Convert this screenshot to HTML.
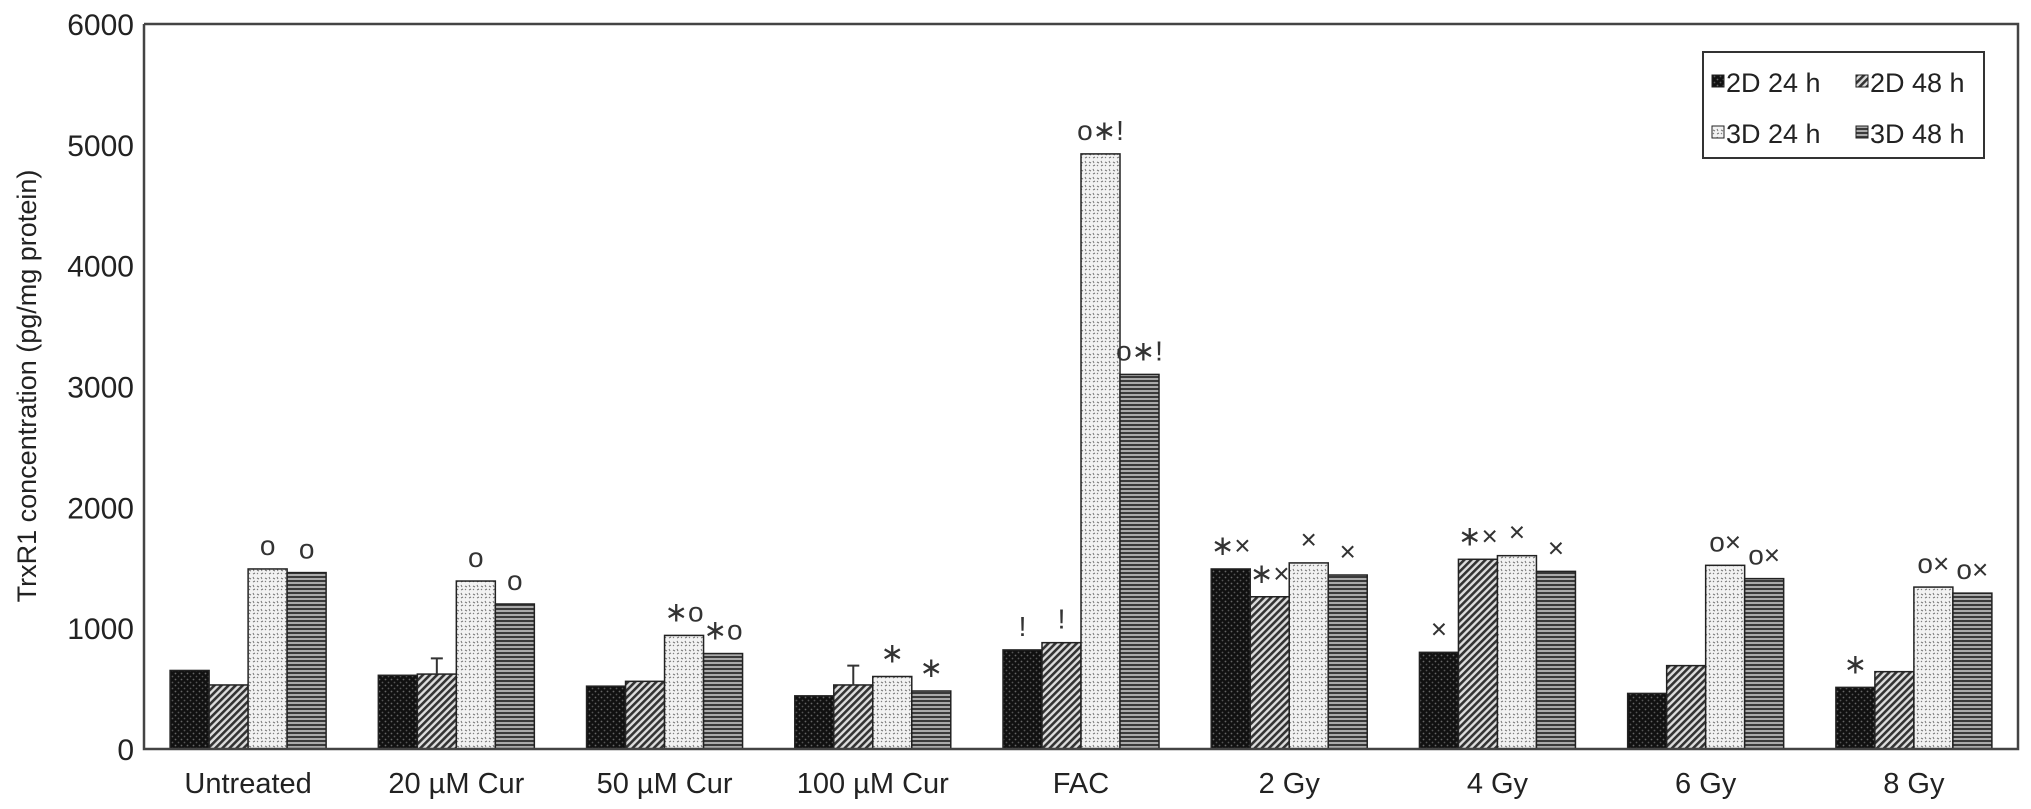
<!DOCTYPE html>
<html><head><meta charset="utf-8"><style>
html,body{margin:0;padding:0;background:#fff;}
svg{display:block;font-family:"Liberation Sans",Arial,sans-serif;}
</style></head><body>
<svg id="chart" width="2031" height="809" viewBox="0 0 2031 809">
<defs>
<pattern id="p0" width="6" height="6" patternUnits="userSpaceOnUse"><rect width="6" height="6" fill="#111"/><circle cx="1.5" cy="1.5" r="0.9" fill="#666"/><circle cx="4.5" cy="4.5" r="0.9" fill="#555"/></pattern>
<pattern id="p1" width="5" height="5" patternUnits="userSpaceOnUse" patternTransform="rotate(45)"><rect width="5" height="5" fill="#ddd"/><rect width="2.6" height="5" fill="#333"/></pattern>
<pattern id="p2" width="8" height="8" patternUnits="userSpaceOnUse"><rect width="8" height="8" fill="#f2f2f2"/><path d="M1 2l2 1M5 6l2-1M5 1l1 2M1 6l1-1" stroke="#777" stroke-width="1"/></pattern>
<pattern id="p3" width="5" height="4" patternUnits="userSpaceOnUse"><rect width="5" height="4" fill="#aaa"/><rect width="5" height="2" fill="#3a3a3a"/></pattern>
</defs>
<g id="plot"></g>
</svg>
<script>
const categories=["Untreated","20 \u00b5M Cur","50 \u00b5M Cur","100 \u00b5M Cur","FAC","2 Gy","4 Gy","6 Gy","8 Gy"];
const seriesNames=["2D 24 h","2D 48 h","3D 24 h","3D 48 h"];
const s2D24=[650,610,520,440,820,1490,800,460,510];
const s2D48=[530,620,560,530,880,1260,1570,690,640];
const s3D24=[1490,1390,940,600,4925,1540,1600,1520,1340];
const s3D48=[1460,1200,790,480,3100,1440,1470,1410,1290];
const errTop2D48=[0,750,0,690,0,0,0,0,0];
const notes2D24=["","","","","!","*×","×","","*"];
const notes2D48=["","","","","!","*×","*×","",""];
const notes3D24=["o","o","*o","*","o*!","×","×","o×","o×"];
const notes3D48=["o","o","*o","*","o*!","×","×","o×","o×"];
const yTicks=[0,1000,2000,3000,4000,5000,6000];

const NS="http://www.w3.org/2000/svg";
const g=document.getElementById('plot');
const X0=144,X1=2018,Y0=749,Y1=24,YMAX=6000;
const slot=(X1-X0)/categories.length,bw=39;
function yS(v){return Y0-(v/YMAX)*(Y0-Y1);}
function xS(ci,si){return X0+ci*slot+(slot-4*bw)/2+si*bw;}
function mk(t,a){const e=document.createElementNS(NS,t);for(const k in a)e.setAttribute(k,a[k]);g.appendChild(e);return e;}
const series=[s2D24,s2D48,s3D24,s3D48];
const notes=[notes2D24,notes2D48,notes3D24,notes3D48];
series.forEach((arr,si)=>{arr.forEach((v,ci)=>{
  const r=mk('rect',{x:xS(ci,si),y:yS(v),width:bw,height:Y0-yS(v),fill:'url(#p'+si+')',stroke:'#222','stroke-width':1.5});
  
  
  const cx=xS(ci,si)+bw/2;
  if(si===1&&errTop2D48[ci]>0){
    const l=mk('path',{d:`M${cx} ${yS(v)}V${yS(errTop2D48[ci])}M${cx-6} ${yS(errTop2D48[ci])}H${cx+6}`,stroke:'#333','stroke-width':2,fill:'none'});
    
    
  }
  const n=notes[si][ci];
  if(n){const t=mk('text',{x:cx,y:yS(Math.max(v,si===1?errTop2D48[ci]:0))-14,'text-anchor':'middle','font-size':28,fill:'#333'});
    t.textContent=n.replace(/\*/g,'∗');
    
    }
});});
const ax=mk('path',{d:`M${X0} ${Y1}V${Y0}H${X1}V${Y1}H${X0}`,fill:'none',stroke:'#444','stroke-width':2.5});


yTicks.forEach(v=>{const t=mk('text',{x:134,y:yS(v)+11,'text-anchor':'end','font-size':30,fill:'#222'});
  t.textContent=v;
  
  });
categories.forEach((c,ci)=>{const t=mk('text',{x:X0+ci*slot+slot/2,y:793,'text-anchor':'middle','font-size':29,fill:'#222'});
  t.textContent=c;
  
  });
const yt=mk('text',{x:0,y:0,transform:'translate(36,386) rotate(-90)','text-anchor':'middle','font-size':27,fill:'#222'});
yt.textContent='TrxR1 concentration (pg/mg protein)';


const lb=mk('rect',{x:1703,y:52,width:281,height:106,fill:'#fff',stroke:'#333','stroke-width':2});


const lpos=[[1712,82],[1856,82],[1712,133],[1856,133]];
seriesNames.forEach((n,i)=>{
  const s=mk('rect',{x:lpos[i][0],y:lpos[i][1]-7,width:12,height:12,fill:'url(#p'+i+')',stroke:'#222','stroke-width':1});
  
  
  const t=mk('text',{x:lpos[i][0]+14,y:lpos[i][1]+10,'font-size':27,fill:'#222'});
  t.textContent=n;
  
  
});
</script>
</body></html>
